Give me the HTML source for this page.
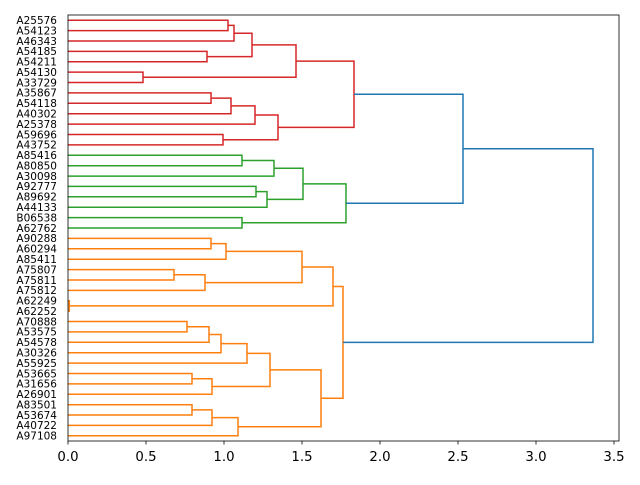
<!DOCTYPE html>
<html><head><meta charset="utf-8"><style>html,body{margin:0;padding:0;background:#fff;}</style></head>
<body>
<svg width="640" height="480" xmlns="http://www.w3.org/2000/svg" font-family="DejaVu Sans, Liberation Sans, sans-serif">
<rect width="640" height="480" fill="#fff"/>
<g fill="none" stroke-width="1.5" stroke-linejoin="miter">
<g stroke="#d62728">
<path d="M68 20.2H228V30.6H68"/>
<path d="M228 25.4H234V41H68"/>
<path d="M68 51.4H207V61.8H68"/>
<path d="M234 33.2H252V56.6H207"/>
<path d="M68 72.1H143V82.5H68"/>
<path d="M252 44.9H296V77.3H143"/>
<path d="M68 92.9H211V103.3H68"/>
<path d="M211 98.1H231V113.7H68"/>
<path d="M231 105.9H255V124.1H68"/>
<path d="M68 134.5H223V144.9H68"/>
<path d="M255 115H278V139.7H223"/>
<path d="M296 61.1H354V127.35H278"/>
</g>
<g stroke="#2ca02c">
<path d="M68 155.3H242V165.7H68"/>
<path d="M242 160.5H274V176.1H68"/>
<path d="M68 186.4H256V196.8H68"/>
<path d="M256 191.6H267V207.2H68"/>
<path d="M274 168.3H303V199.4H267"/>
<path d="M68 217.6H242V228H68"/>
<path d="M303 183.85H346V222.8H242"/>
</g>
<g stroke="#ff7f0e">
<path d="M68 238.4H211V248.8H68"/>
<path d="M211 243.6H226V259.2H68"/>
<path d="M68 269.6H174V280H68"/>
<path d="M174 274.8H205V290.4H68"/>
<path d="M226 251.4H302V282.6H205"/>
<path d="M68 300.7H69.3V311.1H68"/>
<path d="M302 267H333V305.9H69.3"/>
<path d="M68 321.5H187V331.9H68"/>
<path d="M187 326.7H209V342.3H68"/>
<path d="M209 334.5H221V352.7H68"/>
<path d="M221 343.6H247V363.1H68"/>
<path d="M68 373.5H192V383.9H68"/>
<path d="M192 378.7H212V394.3H68"/>
<path d="M247 353.35H270V386.5H212"/>
<path d="M68 404.7H192V415H68"/>
<path d="M192 409.85H212V425.4H68"/>
<path d="M212 417.6H238V435.8H68"/>
<path d="M270 369.9H321V426.7H238"/>
<path d="M333 286.45H343V398.3H321"/>
</g>
<g stroke="#1f77b4">
<path d="M354 94.2H463V203.3H346"/>
<path d="M463 148.75H593V342.4H343"/>
</g>
</g>
<rect x="68" y="15" width="551" height="426" fill="none" stroke="#000" stroke-width="0.8"/>
<g stroke="#000" stroke-width="0.8">
<path d="M68 441v3.5M146 441v3.5M224 441v3.5M302 441v3.5M380 441v3.5M458 441v3.5M536 441v3.5M614 441v3.5"/>
</g>
<g font-size="13.3" text-anchor="middle" fill="#000">
<text x="68" y="461">0.0</text><text x="146" y="461">0.5</text><text x="224" y="461">1.0</text><text x="302" y="461">1.5</text>
<text x="380" y="461">2.0</text><text x="458" y="461">2.5</text><text x="536" y="461">3.0</text><text x="614" y="461">3.5</text>
</g>
<g font-size="10.5" text-anchor="end" fill="#000">
<text x="57" y="24">A25576</text><text x="57" y="34.4">A54123</text><text x="57" y="44.8">A46343</text><text x="57" y="55.2">A54185</text>
<text x="57" y="65.6">A54211</text><text x="57" y="75.9">A54130</text><text x="57" y="86.3">A33729</text><text x="57" y="96.7">A35867</text>
<text x="57" y="107.1">A54118</text><text x="57" y="117.5">A40302</text><text x="57" y="127.9">A25378</text><text x="57" y="138.3">A59696</text>
<text x="57" y="148.7">A43752</text><text x="57" y="159.1">A85416</text><text x="57" y="169.5">A80850</text><text x="57" y="179.9">A30098</text>
<text x="57" y="190.2">A92777</text><text x="57" y="200.6">A89692</text><text x="57" y="211">A44133</text><text x="57" y="221.4">B06538</text>
<text x="57" y="231.8">A62762</text><text x="57" y="242.2">A90288</text><text x="57" y="252.6">A60294</text><text x="57" y="263">A85411</text>
<text x="57" y="273.4">A75807</text><text x="57" y="283.8">A75811</text><text x="57" y="294.2">A75812</text><text x="57" y="304.5">A62249</text>
<text x="57" y="314.9">A62252</text><text x="57" y="325.3">A70888</text><text x="57" y="335.7">A53575</text><text x="57" y="346.1">A54578</text>
<text x="57" y="356.5">A30326</text><text x="57" y="366.9">A55925</text><text x="57" y="377.3">A53665</text><text x="57" y="387.7">A31656</text>
<text x="57" y="398.1">A26901</text><text x="57" y="408.5">A83501</text><text x="57" y="418.8">A53674</text><text x="57" y="429.2">A40722</text>
<text x="57" y="439.6">A97108</text>
</g>
</svg>
</body></html>
